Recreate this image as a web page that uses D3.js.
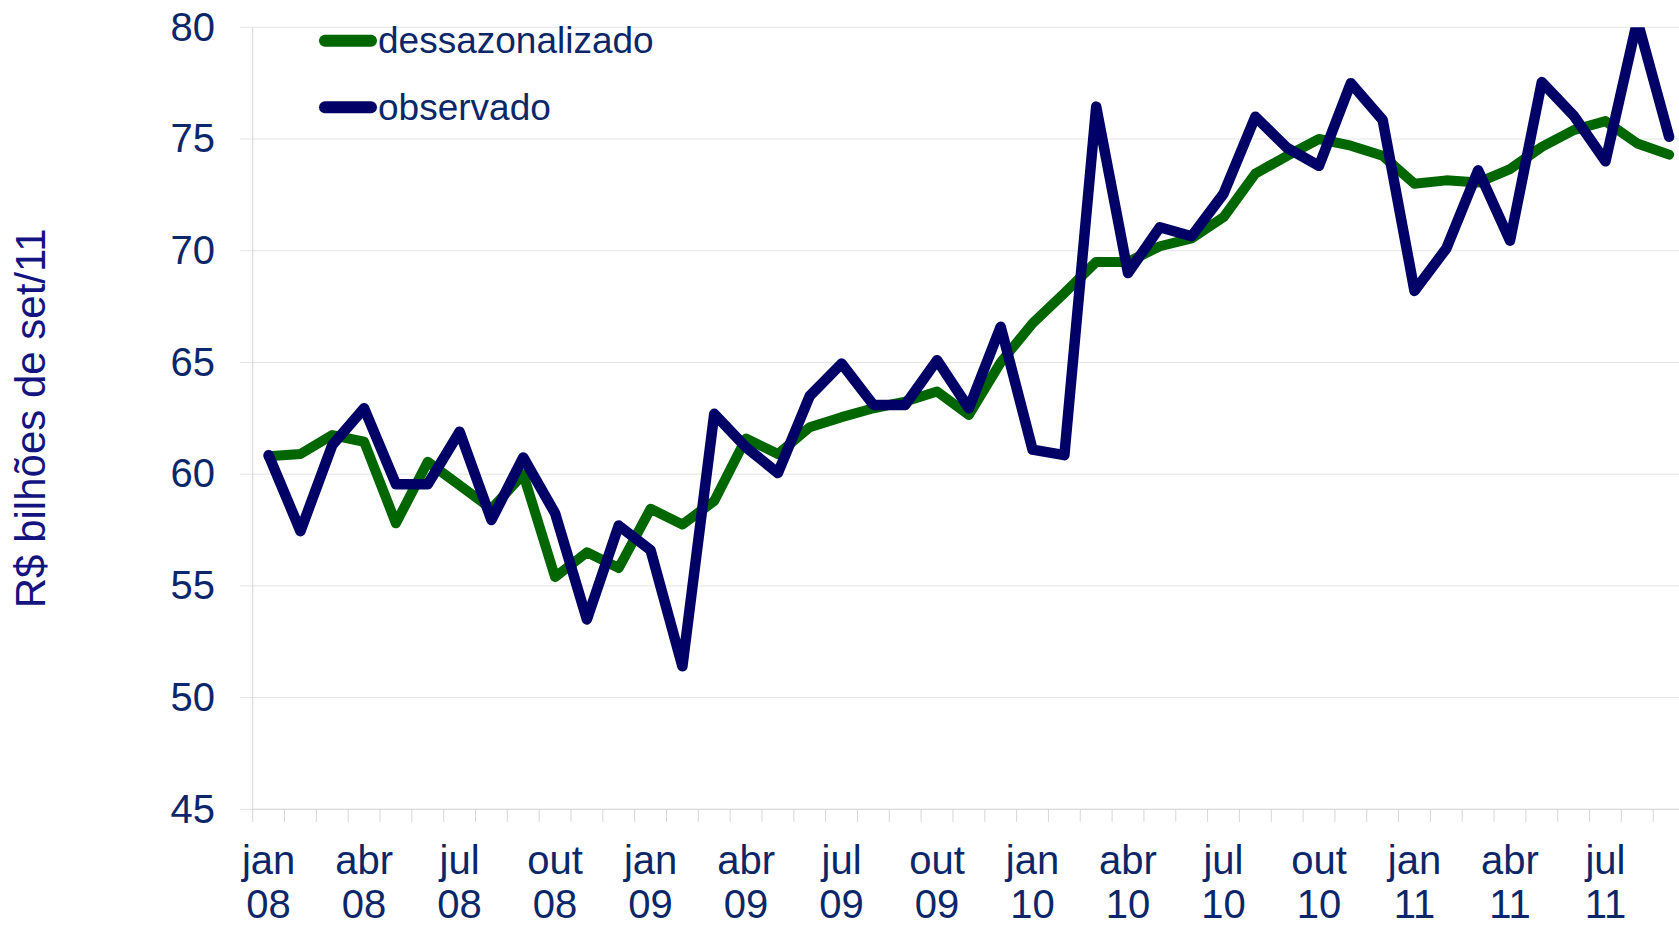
<!DOCTYPE html>
<html>
<head>
<meta charset="utf-8">
<script src="https://cdn.jsdelivr.net/npm/d3@7"></script>
<style>
  html, body { margin: 0; padding: 0; background: #fff; overflow: hidden; }
  svg { display: block; font-family: "Liberation Sans", Arial, sans-serif; }
</style>
</head>
<body>
<div id="chart"></div>
<script>
// Receita (R$ bilhões de set/11), jan/08 a set/11: dessazonalizado vs observado.

const MONTHS = ["jan", "fev", "mar", "abr", "mai", "jun", "jul", "ago", "set", "out", "nov", "dez"];
const YEARS = ["08", "09", "10", "11"];
const N_MONTHS = 45; // jan/08 .. set/11

// month keys, e.g. "jan 08"
const periods = [];
for (let i = 0; i < N_MONTHS; i++) {
  periods.push(MONTHS[i % 12] + " " + YEARS[Math.floor(i / 12)]);
}

const dessazonalizado = [
  60.8, 60.9, 61.75, 61.45, 57.8, 60.55, 59.5, 58.45, 60.0, 55.4, 56.5, 55.8,
  58.45, 57.75, 58.8, 61.6, 60.9, 62.1, 62.55, 62.95, 63.25, 63.7, 62.65, 65.0,
  66.75, 68.1, 69.5, 69.5, 70.2, 70.55, 71.5, 73.45, 74.25, 75.0, 74.7, 74.25,
  73.0, 73.15, 73.05, 73.65, 74.65, 75.4, 75.8, 74.8, 74.3
];

const observado = [
  60.85, 57.45, 61.3, 62.95, 59.55, 59.55, 61.9, 57.95, 60.75, 58.25, 53.5, 57.7,
  56.6, 51.4, 62.7, 61.2, 60.05, 63.5, 64.95, 63.1, 63.1, 65.1, 62.95, 66.6,
  61.1, 60.85, 76.45, 69.0, 71.05, 70.65, 72.55, 76.0, 74.6, 73.8, 77.5, 75.85,
  68.2, 70.1, 73.6, 70.45, 77.55, 76.05, 74.0, 80.3, 75.1
];

const yTicks = [45, 50, 55, 60, 65, 70, 75, 80];
const yLabel = "R$ bilhões de set/11";

const series = [
  { name: "dessazonalizado", values: dessazonalizado, color: "#006600", width: 10 },
  { name: "observado", values: observado, color: "#000066", width: 10.5 },
];

const W = 1679, H = 927;
const plotLeft = 252.7, plotTop = 27.3, plotBottom = 809.3;
const step = 31.83;

const svg = d3.select("#chart").append("svg")
  .attr("width", W)
  .attr("height", H);

const x = d3.scaleBand()
  .domain(periods)
  .range([plotLeft, plotLeft + step * N_MONTHS])
  .padding(0);

const y = d3.scaleLinear()
  .domain([45, 80])
  .range([plotBottom, plotTop]);

const textColor = "#0c2769";
const gridColor = "#e4e4e4";

// horizontal gridlines (they poke a little past the y axis, like tick marks)
svg.append("g")
  .selectAll("line")
  .data(yTicks)
  .join("line")
  .attr("x1", plotLeft - 13)
  .attr("x2", W)
  .attr("y1", d => y(d))
  .attr("y2", d => y(d))
  .attr("stroke", gridColor)
  .attr("stroke-width", 1);

// y axis labels
const yAxis = svg.append("g")
  .attr("transform", `translate(${plotLeft},0)`)
  .call(d3.axisLeft(y).tickValues(yTicks).tickSize(0).tickPadding(37.7));
yAxis.select(".domain").remove();
yAxis.selectAll("text")
  .attr("fill", textColor)
  .style("font-size", "40px")
  .style("font-family", "'Liberation Sans', Arial, sans-serif");

// axis lines
svg.append("line")
  .attr("x1", plotLeft).attr("x2", plotLeft)
  .attr("y1", plotTop).attr("y2", plotBottom)
  .attr("stroke", "#d6d6d6");
svg.append("line")
  .attr("x1", plotLeft).attr("x2", W)
  .attr("y1", plotBottom).attr("y2", plotBottom)
  .attr("stroke", "#d6d6d6");

// month boundary ticks
const lastEdge = x(periods[N_MONTHS - 1]) + x.bandwidth();
svg.append("g")
  .selectAll("line")
  .data(periods.concat([null]))
  .join("line")
  .attr("x1", d => d ? x(d) : lastEdge)
  .attr("x2", d => d ? x(d) : lastEdge)
  .attr("y1", plotBottom)
  .attr("y2", plotBottom + 12.5)
  .attr("stroke", "#d6d6d6");

// quarterly labels, two lines: month / year
const xLabels = svg.append("g")
  .selectAll("text")
  .data(periods.filter((d, i) => i % 3 === 0))
  .join("text")
  .attr("text-anchor", "middle")
  .attr("fill", textColor)
  .style("font-size", "40px");
xLabels.append("tspan")
  .attr("x", d => x(d) + x.bandwidth() / 2)
  .attr("y", 874)
  .text(d => d.split(" ")[0]);
xLabels.append("tspan")
  .attr("x", d => x(d) + x.bandwidth() / 2)
  .attr("y", 918)
  .text(d => d.split(" ")[1]);

// y axis title
svg.append("text")
  .attr("transform", `translate(45,${(plotTop + plotBottom) / 2}) rotate(-90)`)
  .attr("text-anchor", "middle")
  .attr("fill", "#141480")
  .style("font-size", "42px")
  .text(yLabel);

// lines, clipped to the plot area (observado peaks past 80 in ago/11)
svg.append("clipPath")
  .attr("id", "plot-clip")
  .append("rect")
  .attr("x", plotLeft)
  .attr("y", plotTop)
  .attr("width", W - plotLeft)
  .attr("height", plotBottom - plotTop);

const line = d3.line()
  .x((d, i) => x(periods[i]) + x.bandwidth() / 2)
  .y(d => y(d));

svg.append("g")
  .attr("clip-path", "url(#plot-clip)")
  .selectAll("path")
  .data(series)
  .join("path")
  .attr("d", d => line(d.values))
  .attr("fill", "none")
  .attr("stroke", d => d.color)
  .attr("stroke-width", d => d.width)
  .attr("stroke-linejoin", "round")
  .attr("stroke-linecap", "round");

// legend
const legend = svg.append("g")
  .selectAll("g")
  .data(series)
  .join("g")
  .attr("transform", (d, i) => `translate(0,${40.7 + i * 66.6})`);
legend.append("line")
  .attr("x1", 325).attr("x2", 371)
  .attr("y1", 0).attr("y2", 0)
  .attr("stroke", d => d.color)
  .attr("stroke-width", 12)
  .attr("stroke-linecap", "round");
legend.append("text")
  .attr("x", 378)
  .attr("y", 12.6)
  .attr("fill", textColor)
  .style("font-size", "37px")
  .text(d => d.name);
</script>
</body>
</html>
